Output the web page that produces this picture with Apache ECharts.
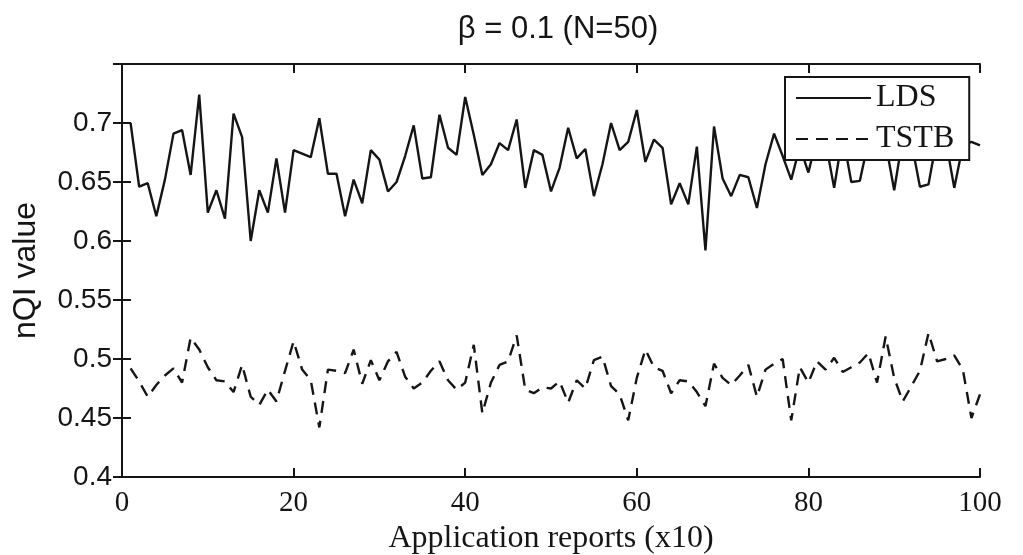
<!DOCTYPE html>
<html>
<head>
<meta charset="utf-8">
<script src="https://cdn.jsdelivr.net/npm/echarts@6/dist/echarts.min.js"></script>
<style>
html,body{margin:0;padding:0;background:#fff;}
#chart{width:1023px;height:555px;}
</style>
</head>
<body>
<div id="chart"></div>
<script>
// ---- data ----
var titleText = 'β = 0.1 (N=50)';
var xAxisName = 'Application reports (x10)';
var yAxisName = 'nQI value';
var seriesNames = ['LDS', 'TSTB'];
var xTicks = [0, 20, 40, 60, 80, 100];
var yTicks = [0.4, 0.45, 0.5, 0.55, 0.6, 0.65, 0.7];

var ldsValues = [
  0.700, 0.646, 0.649, 0.621, 0.652, 0.691, 0.694, 0.656, 0.724, 0.624,
  0.643, 0.619, 0.708, 0.688, 0.600, 0.643, 0.624, 0.670, 0.624, 0.677,
  0.674, 0.671, 0.704, 0.657, 0.657, 0.621, 0.652, 0.632, 0.677, 0.669,
  0.642, 0.650, 0.672, 0.698, 0.653, 0.654, 0.707, 0.679, 0.673, 0.722,
  0.690, 0.656, 0.665, 0.683, 0.677, 0.703, 0.645, 0.677, 0.673, 0.642,
  0.662, 0.696, 0.670, 0.678, 0.638, 0.665, 0.700, 0.677, 0.684, 0.711,
  0.667, 0.686, 0.679, 0.631, 0.649, 0.631, 0.680, 0.592, 0.697, 0.653,
  0.638, 0.656, 0.654, 0.628, 0.665, 0.691, 0.672, 0.652, 0.680, 0.658,
  0.688, 0.684, 0.645, 0.690, 0.650, 0.651, 0.685, 0.690, 0.683, 0.643,
  0.688, 0.684, 0.646, 0.648, 0.688, 0.686, 0.645, 0.681, 0.684, 0.681
];
var tstbValues = [
  0.492, 0.481, 0.468, 0.478, 0.486, 0.492, 0.480, 0.518, 0.508, 0.493,
  0.482, 0.481, 0.472, 0.495, 0.468, 0.461, 0.474, 0.464, 0.490, 0.515,
  0.491, 0.482, 0.442, 0.491, 0.490, 0.488, 0.508, 0.479, 0.499, 0.482,
  0.498, 0.506, 0.485, 0.475, 0.480, 0.490, 0.498, 0.482, 0.474, 0.480,
  0.512, 0.454, 0.480, 0.495, 0.498, 0.520, 0.474, 0.471, 0.476, 0.475,
  0.481, 0.463, 0.482, 0.475, 0.499, 0.502, 0.477, 0.470, 0.448, 0.484,
  0.508, 0.493, 0.490, 0.471, 0.482, 0.481, 0.472, 0.460, 0.496, 0.484,
  0.478, 0.486, 0.495, 0.468, 0.491, 0.496, 0.500, 0.448, 0.493, 0.480,
  0.498, 0.491, 0.501, 0.489, 0.493, 0.497, 0.505, 0.480, 0.519, 0.484,
  0.464, 0.477, 0.490, 0.522, 0.498, 0.500, 0.503, 0.491, 0.450, 0.470
];

// x position of each report = its 1-based index
function pairs(vals) {
  var out = [];
  for (var i = 0; i < vals.length; i++) out.push([i + 1, vals[i]]);
  return out;
}

var serif = '"Liberation Serif", "Times New Roman", serif';
var sans = '"Liberation Sans", Arial, sans-serif';
var ink = '#151515';

var chart = echarts.init(document.getElementById('chart'), null, {renderer: 'canvas'});

var axisLineStyle = {show: true, lineStyle: {color: ink, width: 2}};
var tickStyle = {show: true, inside: true, length: 9, lineStyle: {color: ink, width: 2}};

var option = {
  backgroundColor: '#fff',
  animation: false,
  title: {
    text: titleText,
    left: 553, textAlign: 'center',
    top: 9,
    textStyle: {fontFamily: sans, fontSize: 31, fontWeight: 'normal', color: ink}
  },
  legend: {
    data: seriesNames,
    orient: 'vertical',
    left: 785, top: 77,
    padding: [5, 15, 5, 10],
    itemWidth: 75, itemHeight: 20, itemGap: 9,
    borderColor: ink, borderWidth: 2, borderRadius: 0,
    backgroundColor: '#fff',
    itemStyle: {opacity: 0, borderWidth: 0},
    textStyle: {fontFamily: serif, fontSize: 32, color: ink}
  },
  grid: {left: 122, right: 43, top: 64, bottom: 78, containLabel: false, outerBoundsMode: 'none'},
  xAxis: [{
    type: 'value', min: xTicks[0], max: xTicks[xTicks.length - 1], interval: 20,
    name: xAxisName, nameLocation: 'middle', nameGap: 45,
    nameTextStyle: {fontFamily: serif, fontSize: 32, color: ink},
    axisLine: axisLineStyle, axisTick: tickStyle,
    axisLabel: {fontFamily: serif, fontSize: 29, color: ink, margin: 12},
    splitLine: {show: false}
  }, {
    type: 'value', position: 'top', min: xTicks[0], max: xTicks[xTicks.length - 1], interval: 20,
    axisLine: axisLineStyle, axisTick: tickStyle, axisLabel: {show: false}, splitLine: {show: false}
  }],
  yAxis: [{
    type: 'value', min: 0.4, max: 0.75, interval: 0.05,
    name: yAxisName, nameLocation: 'middle', nameGap: 80, nameRotate: 90,
    nameTextStyle: {fontFamily: sans, fontSize: 32, color: ink},
    axisLine: axisLineStyle, axisTick: tickStyle,
    axisLabel: {
      fontFamily: sans, fontSize: 28, color: ink, margin: 10, showMaxLabel: false,
      formatter: function (v) { return String(Math.round(v * 100) / 100); }
    },
    splitLine: {show: false}
  }, {
    type: 'value', position: 'right', min: 0.4, max: 0.75, interval: 0.05,
    axisLine: axisLineStyle, axisTick: tickStyle, axisLabel: {show: false}, splitLine: {show: false}
  }],
  series: [{
    name: seriesNames[0], type: 'line', data: pairs(ldsValues),
    symbol: 'none', smooth: false,
    lineStyle: {color: ink, width: 2.4, type: 'solid'},
    itemStyle: {color: ink}
  }, {
    name: seriesNames[1], type: 'line', data: pairs(tstbValues),
    symbol: 'none', smooth: false,
    lineStyle: {color: ink, width: 2.4, type: [12, 8]},
    itemStyle: {color: ink}
  }]
};
chart.setOption(option);
</script>
</body>
</html>
